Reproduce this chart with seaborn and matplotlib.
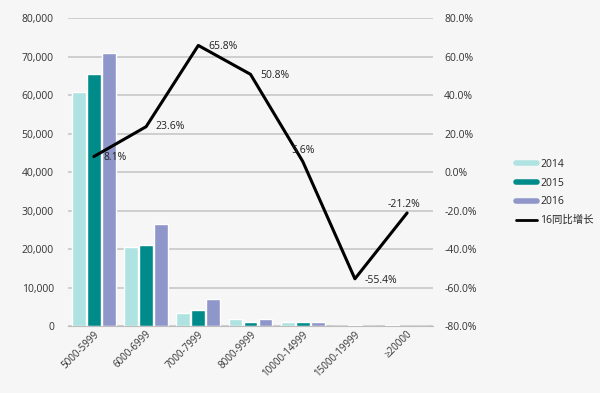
import numpy as np
import pandas as pd
import seaborn as sns
import matplotlib.pyplot as plt
from matplotlib.lines import Line2D
from matplotlib.ticker import FuncFormatter

# 价格区间与各年数值
categories = ['5000-5999', '6000-6999', '7000-7999', '8000-9999', '10000-14999', '15000-19999', '≥20000']
years = ['2014', '2015', '2016']
v2014 = [60800, 20600, 3500, 1800, 1200, 150, 400]
v2015 = [65600, 21200, 4200, 1100, 1000, 220, 120]
v2016 = [71000, 26500, 7100, 1800, 1000, 100, 90]
growth = [8.1, 23.6, 65.8, 50.8, 5.6, -55.4, -21.2]
growth_labels = ['8.1%', '23.6%', '65.8%', '50.8%', '5.6%', '-55.4%', '-21.2%']

colors = ['#afe3e2', '#008b8b', '#8f96c9']

sns.set_style('white')
plt.rcParams['font.family'] = ['Open Sans', 'Noto Sans CJK SC', 'DejaVu Sans']

df = pd.DataFrame({
    'cat': categories * 3,
    'year': [y for y in years for _ in categories],
    'val': v2014 + v2015 + v2016,
})

fig = plt.figure(figsize=(6, 3.93), dpi=100, facecolor='#f6f6f6')
ax = fig.add_axes([0.113, 0.170, 0.609, 0.784])
ax.set_facecolor('none')

sns.barplot(data=df, x='cat', y='val', hue='year', palette=colors, width=0.86, gap=0.08,
            saturation=1, ax=ax, legend=False, zorder=2)
ax.set_ylim(0, 80000)
ax.set_yticks(np.arange(0, 80001, 10000))
ax.yaxis.set_major_formatter(FuncFormatter(lambda v, p: f'{int(v):,}'))
ax.grid(axis='y', color='#c8c8c8', linewidth=1.2, zorder=0)
ax.set_axisbelow(True)
ax.set_xlim(-0.5, 6.5)
ax.set_xlabel('')
ax.set_ylabel('')
for s in ['top', 'right', 'left']:
    ax.spines[s].set_visible(False)
ax.spines['bottom'].set_color('#bdbdbd')
ax.tick_params(axis='y', labelsize=7.5, length=0, pad=10, colors='#333333')
ax.tick_params(axis='x', labelsize=7, length=0, pad=2, colors='#333333')
plt.setp(ax.get_xticklabels(), rotation=45, ha='right', rotation_mode='anchor')

ax2 = ax.twinx()
ax2.set_facecolor('none')
sns.lineplot(x=np.arange(len(categories)), y=growth, ax=ax2, color='black', linewidth=2.2)
ax2.set_ylim(-80, 80)
ax2.set_yticks(np.arange(-80, 81, 20))
ax2.yaxis.set_major_formatter(FuncFormatter(lambda v, p: f'{v:.1f}%'))
ax2.tick_params(axis='y', labelsize=7.5, length=0, pad=8, colors='#333333')
for s in ['top', 'right', 'left', 'bottom']:
    ax2.spines[s].set_visible(False)

offsets = [(7, -1), (7, 0), (7, -1), (7, -1), (-8, 8), (7, -1), (-14, 6)]
for i, (g, lab) in enumerate(zip(growth, growth_labels)):
    dx, dy = offsets[i]
    ax2.annotate(lab, (i, g), xytext=(dx, dy), textcoords='offset points',
                 fontsize=7.5, color='#222222', va='center', ha='left')

handles = [Line2D([], [], color=c, linewidth=4) for c in colors]
handles.append(Line2D([], [], color='black', linewidth=2))
fig.legend(handles, years + ['16同比增长'], loc='center left', bbox_to_anchor=(0.845, 0.51),
           frameon=False, fontsize=7.5, handlelength=2.0, handletextpad=0.3, labelspacing=0.75)

fig.savefig('out.png', dpi=100, facecolor=fig.get_facecolor())
